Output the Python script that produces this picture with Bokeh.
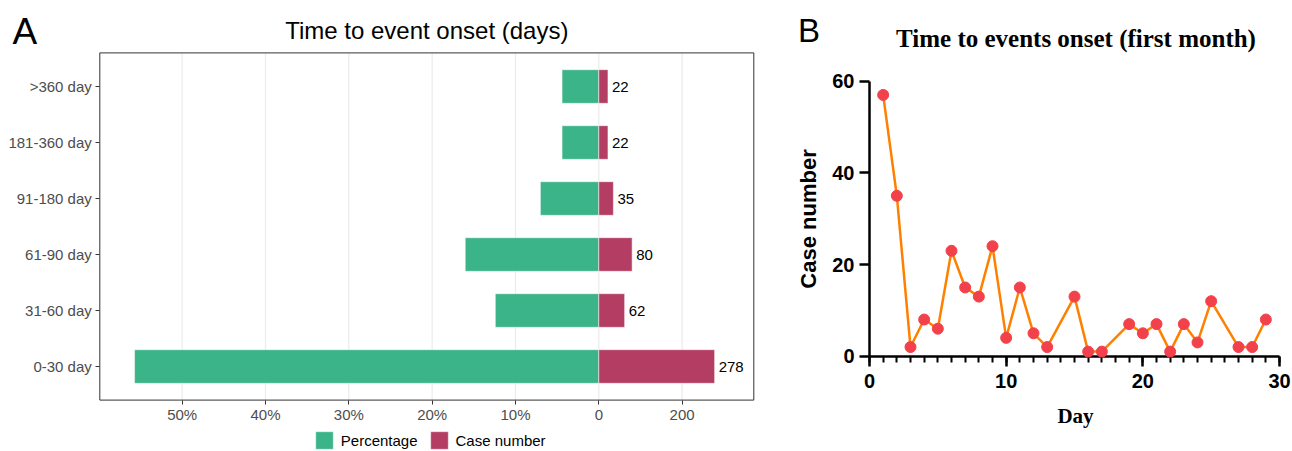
from bokeh.plotting import figure
from bokeh.models import (ColumnDataSource, FixedTicker, Legend, LegendItem, LinearAxis, Range1d)
from bokeh.embed import file_html
from bokeh.resources import INLINE
from bokeh.core.properties import value

# ---------------- data ----------------
categories = ["0-30 day", "31-60 day", "61-90 day", "91-180 day", "181-360 day", ">360 day"]
case_numbers = [278, 62, 80, 35, 22, 22]
percentages = [55.71, 12.42, 16.03, 7.01, 4.41, 4.41]
pct_tick_values = [50, 40, 30, 20, 10]
case_tick_values = [0, 200]

days = [1, 2, 3, 4, 5, 6, 7, 8, 9, 10, 11, 12, 13, 15, 16, 17, 19, 20, 21, 22, 23, 24, 25, 27, 28, 29]
day_cases = [57, 35, 2, 8, 6, 23, 15, 13, 24, 4, 15, 5, 2, 13, 1, 1, 7, 5, 7, 1, 7, 3, 12, 2, 2, 8]
b_xticks = [0, 10, 20, 30]
b_yticks = [0, 20, 40, 60]

CASES_PER_UNIT = 20.0   # 200 cases drawn as wide as 10 %

GREEN = "#3CB489"
RED = "#B43D64"
SANS = "Liberation Sans"
SERIF = "Liberation Serif"

# ---------------- page geometry (pixels) ----------------
W, H = 1291, 450
# panel A frame
A_L, A_R, A_T, A_B = 99.3, 753.3, 52.4, 399.6
A_ZERO_PX, A_PX_PER_UNIT = 598.3, 8.333
A_Y_LO, A_Y_HI = 0.4, 6.6
# panel B axes
B_X0_PX, B_X30_PX = 869.0, 1279.0
B_Y0_PX, B_Y60_PX = 355.7, 80.7

a_x_lo = (A_L - A_ZERO_PX) / A_PX_PER_UNIT
a_x_hi = (A_R - A_ZERO_PX) / A_PX_PER_UNIT
a_y_px = (A_B - A_T) / (A_Y_HI - A_Y_LO)
b_x_px = (B_X30_PX - B_X0_PX) / 30.0
b_y_px = (B_Y0_PX - B_Y60_PX) / 60.0

p = figure(width=W, height=H, output_backend="svg", toolbar_location=None,
           x_range=Range1d(0, W), y_range=Range1d(H, 0),
           x_axis_location=None, y_axis_location=None, title_location=None, min_border=0)
p.extra_x_ranges = {
    "ax": Range1d(-A_ZERO_PX / A_PX_PER_UNIT, (W - A_ZERO_PX) / A_PX_PER_UNIT),
    "bx": Range1d(-B_X0_PX / b_x_px, (W - B_X0_PX) / b_x_px),
}
p.extra_y_ranges = {
    "ay": Range1d(A_Y_LO - (H - A_B) / a_y_px, A_Y_LO + A_B / a_y_px),
    "by": Range1d(-(H - B_Y0_PX) / b_y_px, B_Y0_PX / b_y_px),
}
p.background_fill_color = "white"
p.border_fill_color = "white"
p.outline_line_color = None
p.grid.visible = False

# ---------------- panel A ----------------
ypos = [i + 1 for i in range(len(categories))]
xt = [-v for v in pct_tick_values] + [c / CASES_PER_UNIT for c in case_tick_values]
src_pct = ColumnDataSource(dict(y=ypos, left=[-v for v in percentages], right=[0] * len(ypos)))
src_case = ColumnDataSource(dict(y=ypos, left=[0] * len(ypos),
                                 right=[c / CASES_PER_UNIT for c in case_numbers],
                                 lab=[str(c) for c in case_numbers]))

# vertical grid lines at the tick positions
p.segment(x0=xt, x1=xt, y0=[A_Y_LO] * len(xt), y1=[A_Y_HI] * len(xt),
          x_range_name="ax", y_range_name="ay", line_color="#EBEBEB", line_width=1.2)

g = p.hbar(y="y", left="left", right="right", height=0.6, source=src_pct,
           x_range_name="ax", y_range_name="ay",
           fill_color=GREEN, line_color="white", line_alpha=0.5, line_width=1)
r = p.hbar(y="y", left="left", right="right", height=0.6, source=src_case,
           x_range_name="ax", y_range_name="ay",
           fill_color=RED, line_color="white", line_alpha=0.5, line_width=1)
p.text(x="right", y="y", text="lab", source=src_case, x_range_name="ax", y_range_name="ay",
       x_offset=4, text_baseline="middle", text_align="left",
       text_font_size="15px", text_font=value(SANS), text_color="black")

# panel border
p.quad(left=[a_x_lo], right=[a_x_hi], bottom=[A_Y_LO], top=[A_Y_HI],
       x_range_name="ax", y_range_name="ay",
       fill_color=None, line_color="#333333", line_width=1)

overrides = {-v: f"{v}%" for v in pct_tick_values}
for c in case_tick_values:
    overrides[c / CASES_PER_UNIT] = str(c)
ax_a = LinearAxis(x_range_name="ax", y_range_name="ay", fixed_location=A_Y_LO,
                  ticker=FixedTicker(ticks=xt, minor_ticks=[]), major_label_overrides=overrides,
                  bounds=(a_x_lo, a_x_hi))
ay_a = LinearAxis(x_range_name="ax", y_range_name="ay", fixed_location=a_x_lo,
                  ticker=FixedTicker(ticks=ypos, minor_ticks=[]),
                  major_label_overrides={yy: c for yy, c in zip(ypos, categories)},
                  bounds=(A_Y_LO, A_Y_HI))
for ax in (ax_a, ay_a):
    ax.axis_line_color = None
    ax.major_tick_in = 0
    ax.major_tick_out = 4
    ax.minor_tick_line_color = None
    ax.major_tick_line_color = "#333333"
    ax.major_label_text_font = SANS
    ax.major_label_text_font_size = "15px"
    ax.major_label_text_color = "#4D4D4D"
ax_a.major_label_standoff = 2
ay_a.major_label_standoff = 4
p.add_layout(ax_a, "below")
p.add_layout(ay_a, "left")

legend = Legend(items=[LegendItem(label="Percentage", renderers=[g]),
                       LegendItem(label="Case number", renderers=[r])],
                orientation="horizontal", location=(312.8, -1),
                border_line_color=None, background_fill_alpha=0, padding=0, margin=0,
                spacing=10, label_standoff=6, glyph_width=22, glyph_height=22,
                label_text_font=SANS, label_text_font_size="15px", label_text_color="black")
p.add_layout(legend)

# ---------------- panel B ----------------
p.line(days, day_cases, x_range_name="bx", y_range_name="by", line_color="#FF8000", line_width=2.5)
p.scatter(days, day_cases, x_range_name="bx", y_range_name="by",
          size=11, fill_color="#F2414B", line_color="#F2414B")

bx_axis = LinearAxis(x_range_name="bx", y_range_name="by", fixed_location=0, bounds=(0, 30),
                     ticker=FixedTicker(ticks=b_xticks, minor_ticks=list(range(0, 31))))
by_axis = LinearAxis(x_range_name="bx", y_range_name="by", fixed_location=0, bounds=(0, 60),
                     ticker=FixedTicker(ticks=b_yticks, minor_ticks=[]))
for ax in (bx_axis, by_axis):
    ax.axis_line_color = "black"
    ax.axis_line_width = 2.5
    ax.major_tick_line_color = "black"
    ax.major_tick_line_width = 2.5
    ax.major_tick_in = 0
    ax.major_tick_out = 10
    ax.minor_tick_line_color = "black"
    ax.minor_tick_line_width = 2
    ax.minor_tick_in = 0
    ax.minor_tick_out = 6
    ax.major_label_text_font = SANS
    ax.major_label_text_font_style = "bold"
    ax.major_label_text_font_size = "20px"
    ax.major_label_text_color = "black"
    ax.level = "underlay"
by_axis.minor_tick_line_color = None
by_axis.major_label_standoff = 5
bx_axis.major_label_standoff = 8
by_axis.axis_label = "Case number"
by_axis.axis_label_text_font = SANS
by_axis.axis_label_text_font_style = "bold"
by_axis.axis_label_text_font_size = "22px"
by_axis.axis_label_text_color = "black"
by_axis.axis_label_standoff = 8
p.add_layout(bx_axis, "below")
p.add_layout(by_axis, "left")

# ---------------- titles and panel letters (page pixel coordinates) ----------------
p.text(x=[12], y=[31], text=["A"], text_font=value(SANS), text_font_size="37px",
       text_baseline="alphabetic", text_align="left", text_color="black")
p.text(x=[(A_L + A_R) / 2], y=[30], text=["Time to event onset (days)"], text_font=value(SANS),
       text_font_size="24px", text_baseline="alphabetic", text_align="center", text_color="black")
p.text(x=[797.5], y=[30], text=["B"], text_font=value(SANS), text_font_size="33px",
       text_baseline="alphabetic", text_align="left", text_color="black")
p.text(x=[1075.5], y=[38], text=["Time to events onset (first month)"], text_font=value(SERIF),
       text_font_style="bold", text_font_size="25px", text_baseline="alphabetic",
       text_align="center", text_color="black")
p.text(x=[1075], y=[415], text=["Day"], text_font=value(SERIF), text_font_style="bold",
       text_font_size="21px", text_baseline="alphabetic", text_align="center", text_color="black")

open("out.html", "w").write(file_html(p, INLINE))
